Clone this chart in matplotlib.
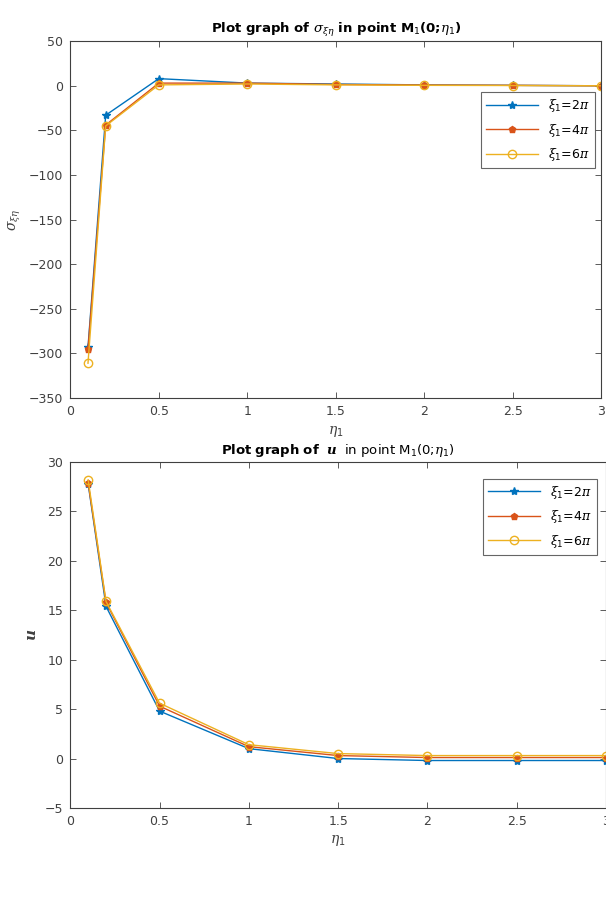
import matplotlib
matplotlib.use("Agg")
import matplotlib.pyplot as plt

# data
eta = [0.1, 0.2, 0.5, 1.0, 1.5, 2.0, 2.5, 3.0]
sig_2pi = [-293, -33, 8, 3, 2, 1, 0.5, 0]
sig_4pi = [-295, -44, 3, 3, 1.5, 0.8, 0.5, 0]
sig_6pi = [-311, -45, 1, 2, 1, 0.5, 0.3, 0]
u_2pi = [27.8, 15.4, 4.8, 1.0, 0.0, -0.2, -0.2, -0.2]
u_4pi = [27.9, 15.8, 5.3, 1.2, 0.3, 0.1, 0.1, 0.1]
u_6pi = [28.2, 15.9, 5.6, 1.4, 0.5, 0.3, 0.3, 0.3]
labels = [r"$\xi_1$=2$\pi$", r"$\xi_1$=4$\pi$", r"$\xi_1$=6$\pi$"]

cols = ["#0072BD", "#D95319", "#EDB120"]
tick_col = "#404040"

plt.rcParams["font.family"] = "DejaVu Sans"
plt.rcParams["mathtext.fontset"] = "custom"
plt.rcParams["mathtext.rm"] = "DejaVu Sans"
plt.rcParams["mathtext.it"] = "DejaVu Serif:italic"
plt.rcParams["mathtext.bf"] = "DejaVu Sans:bold"
plt.rcParams["mathtext.bfit"] = "DejaVu Serif:bold:italic"

fig = plt.figure(figsize=(6.06, 9.15), dpi=100)
ax1 = fig.add_axes([0.116, 0.565, 0.876, 0.390])
ax2 = fig.add_axes([0.116, 0.117, 0.884, 0.378])


def style(ax):
    ax.tick_params(direction="in", top=True, right=True, labelsize=9,
                   colors=tick_col, length=4, width=0.6, pad=5)
    for s in ax.spines.values():
        s.set_color(tick_col)
        s.set_linewidth(0.8)
    ax.set_xlim(0, 3)
    ax.set_xticks([0, 0.5, 1, 1.5, 2, 2.5, 3])
    ax.set_xticklabels(["0", "0.5", "1", "1.5", "2", "2.5", "3"])


def draw(ax, series):
    mk = [dict(marker="*", ms=6, mfc=cols[0], mec=cols[0]),
          dict(marker="p", ms=5, mfc=cols[1], mec=cols[1]),
          dict(marker="o", ms=6, mfc="none", mec=cols[2])]
    for ys, c, m, lab in zip(series, cols, mk, labels):
        ax.plot(eta, ys, color=c, lw=1.0, label=lab, **m)


draw(ax1, [sig_2pi, sig_4pi, sig_6pi])
style(ax1)
ax1.set_ylim(-350, 50)
ax1.set_yticks(range(-350, 51, 50))
ax1.set_title(r"Plot graph of $\sigma_{\xi\eta}$ in point M$_1$(0;$\eta_1$)",
              fontsize=9.5, fontweight="bold", pad=6)
ax1.set_xlabel(r"$\eta_1$", fontsize=10, color=tick_col)
ax1.set_ylabel(r"$\sigma_{\xi\eta}$", fontsize=10, color=tick_col)
leg1 = ax1.legend(loc="upper right", bbox_to_anchor=(1.0, 0.875), fontsize=9,
                  fancybox=False, edgecolor=tick_col, handlelength=4.2,
                  labelspacing=0.6)
leg1.get_frame().set_linewidth(0.8)

draw(ax2, [u_2pi, u_4pi, u_6pi])
style(ax2)
ax2.set_ylim(-5, 30)
ax2.set_yticks(range(-5, 31, 5))
ax2.set_title(r"$\mathbf{Plot\ graph\ of}$  $\mathbfit{u}$  in point M$_1$(0;$\eta_1$)",
              fontsize=9.5, pad=6)
ax2.set_xlabel(r"$\eta_1$", fontsize=10, color=tick_col)
ax2.set_ylabel(r"$\mathbfit{u}$", fontsize=11, color=tick_col)
leg2 = ax2.legend(loc="upper right", bbox_to_anchor=(0.995, 0.97), fontsize=9,
                  fancybox=False, edgecolor=tick_col, handlelength=4.2,
                  labelspacing=0.6)
leg2.get_frame().set_linewidth(0.8)

fig.savefig("out.png", dpi=100)
